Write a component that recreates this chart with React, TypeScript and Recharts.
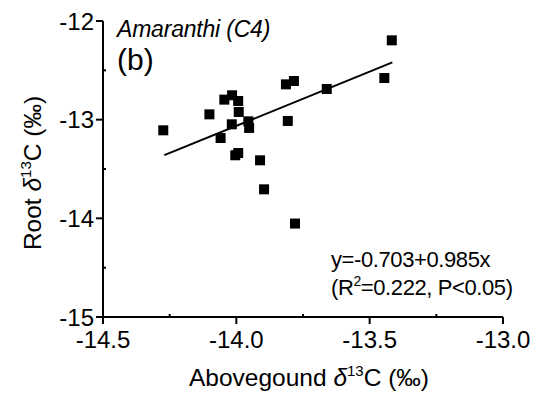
import { ScatterChart, Scatter, XAxis, YAxis, ReferenceLine, Label } from 'recharts';

// aboveground vs root d13C
const aboveX = [
  -14.274, -14.101, -14.045, -14.016, -13.993, -13.991, -14.017, -13.955, -13.952, -14.059, -14.004,
  -13.993, -13.911, -13.896, -13.814, -13.784, -13.807, -13.661, -13.417, -13.445, -13.78,
];
const rootY = [
  -13.108, -12.946, -12.797, -12.753, -12.811, -12.922, -13.047, -13.017, -13.084, -13.186, -13.361,
  -13.338, -13.412, -13.706, -12.642, -12.608, -13.013, -12.689, -12.196, -12.578, -14.053,
];

// fitted line end points as drawn
const fitX = [-14.27, -13.415];
const fitY = [-13.36, -12.42];

const xTicks = [-14.5, -14.25, -14.0, -13.75, -13.5, -13.25, -13.0];
const yTicks = [-15, -14.5, -14, -13.5, -13, -12.5, -12];

const points = aboveX.map((x, i) => ({ x, y: rootY[i] }));

const FONT = '"Liberation Sans", Arial, sans-serif';

const isMajor = (v: number, step: number) => Math.abs(v / step - Math.round(v / step)) < 1e-6;

const XTick = (props: any) => {
  const { x, y, payload } = props;
  const v = payload.value;
  if (!isMajor(v, 0.5)) {
    return <line x1={x} x2={x} y1={y} y2={y - 3} stroke="#000" strokeWidth={2} />;
  }
  return (
    <g>
      <line x1={x} x2={x} y1={y} y2={y + 7} stroke="#000" strokeWidth={2} />
      <text x={x} y={y + 31} textAnchor="middle" fontSize={24} fontFamily={FONT} fill="#000">
        {v.toFixed(1)}
      </text>
    </g>
  );
};

const YTick = (props: any) => {
  const { x, y, payload } = props;
  const v = payload.value;
  if (!isMajor(v, 1)) {
    return <line x1={x} x2={x + 3} y1={y} y2={y} stroke="#000" strokeWidth={2} />;
  }
  return (
    <g>
      <line x1={x - 7} x2={x} y1={y} y2={y} stroke="#000" strokeWidth={2} />
      <text x={x - 9} y={y + 8.5} textAnchor="end" fontSize={24} fontFamily={FONT} fill="#000">
        {v.toFixed(0)}
      </text>
    </g>
  );
};

const XTitle = () => (
  <g fontFamily={FONT} fill="#000">
    <text x={309} y={386} textAnchor="middle" fontSize={24.5}>
      Abovegound <tspan fontStyle="italic">δ</tspan>
      <tspan fontSize={15} dy={-10}>13</tspan>
      <tspan dy={10}>C (‰)</tspan>
    </text>
    <text x={117} y={37} fontSize={23} fontStyle="italic" letterSpacing={-0.2}>
      Amaranthi (C4)
    </text>
    <text x={117} y={70} fontSize={30}>
      (b)
    </text>
    <text x={331} y={267} fontSize={22} letterSpacing={-0.4}>
      y=-0.703+0.985x
    </text>
    <text x={331} y={295} fontSize={22} letterSpacing={-0.4}>
      (R<tspan fontSize={14} dy={-9}>2</tspan>
      <tspan dy={9}>=0.222, P&lt;0.05)</tspan>
    </text>
  </g>
);

const YTitle = () => (
  <text
    x={41}
    y={173}
    transform="rotate(-90, 41, 173)"
    textAnchor="middle"
    fontSize={24.5}
    fontFamily={FONT}
    fill="#000"
  >
    Root <tspan fontStyle="italic">δ</tspan>
    <tspan fontSize={15} dy={-10}>13</tspan>
    <tspan dy={10}>C (‰)</tspan>
  </text>
);

export default function App() {
  return (
    <div style={{ position: 'absolute', left: 0, top: 0, background: '#fff' }}>
      <ScatterChart width={538} height={403} margin={{ top: 21, right: 35, bottom: 0, left: 0 }}>
        <XAxis
          type="number"
          dataKey="x"
          domain={[-14.5, -13]}
          ticks={xTicks}
          interval={0}
          allowDataOverflow
          height={86}
          tickSize={0}
          tickMargin={0}
          tickLine={false}
          axisLine={{ stroke: '#000', strokeWidth: 2 }}
          tick={<XTick />}
        >
          <Label content={<XTitle />} />
        </XAxis>
        <YAxis
          type="number"
          dataKey="y"
          domain={[-15, -12]}
          ticks={yTicks}
          interval={0}
          allowDataOverflow
          width={103}
          tickSize={0}
          tickMargin={0}
          tickLine={false}
          axisLine={{ stroke: '#000', strokeWidth: 2 }}
          tick={<YTick />}
        >
          <Label content={<YTitle />} />
        </YAxis>
        <ReferenceLine
          segment={[
            { x: fitX[0], y: fitY[0] },
            { x: fitX[1], y: fitY[1] },
          ]}
          stroke="#000"
          strokeWidth={2}
        />
        <Scatter
          data={points}
          isAnimationActive={false}
          shape={(p: any) => <rect x={p.cx - 5} y={p.cy - 5} width={10} height={10} fill="#000" />}
        />
      </ScatterChart>
    </div>
  );
}
